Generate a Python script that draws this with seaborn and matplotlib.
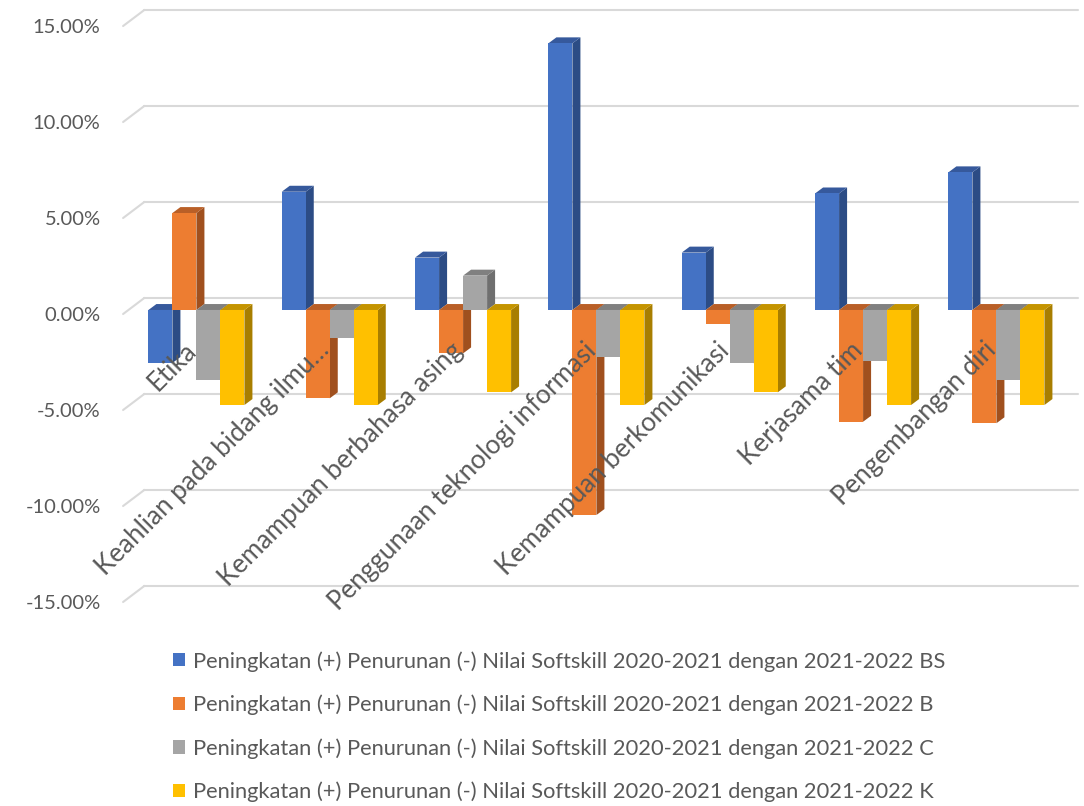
import matplotlib
matplotlib.use("Agg")
import matplotlib.pyplot as plt
import matplotlib.transforms as mtransforms
from matplotlib.patches import Polygon, Patch
from matplotlib.ticker import PercentFormatter
import pandas as pd
import seaborn as sns

categories = [
    "Etika",
    "Keahlian pada bidang ilmu…",
    "Kemampuan berbahasa asing",
    "Penggunaan teknologi informasi",
    "Kemampuan berkomunikasi",
    "Kerjasama tim",
    "Pengembangan diri",
]
series_codes = ["BS", "B", "C", "K"]
series_names = [
    f"Peningkatan (+) Penurunan (-) Nilai Softskill 2020-2021 dengan 2021-2022 {code}"
    for code in series_codes
]
values_bs = [-2.76, 6.16, 2.73, 13.89, 2.99, 6.07, 7.17]
values_b = [5.05, -4.60, -2.26, -10.68, -0.73, -5.82, -5.90]
values_c = [-3.65, -1.44, 1.79, -2.43, -2.78, -2.64, -3.65]
values_k = [-4.95, -4.95, -4.29, -4.95, -4.29, -4.95, -4.95]
y_ticks = [-15, -10, -5, 0, 5, 10, 15]

front_colors = ["#4472C4", "#ED7D31", "#A5A5A5", "#FFC000"]
side_colors = ["#2C4C85", "#A0501E", "#6F6F6F", "#A87E00"]
top_colors = ["#36599C", "#B95F27", "#808080", "#C49400"]
text_color = "#595959"
grid_color = "#D9D9D9"

# 3D look: bar depth and wall offsets, in data units
DEPTH_X, DEPTH_Y = 0.06, 0.31
BACK_X, BACK_Y = 0.11, 0.63
FRONT_X, FRONT_Y = -0.05, -0.21

rows = []
for name, vals in zip(series_names, [values_bs, values_b, values_c, values_k]):
    for cat, v in zip(categories, vals):
        rows.append({"category": cat, "value": v, "series": name})
df = pd.DataFrame(rows)

sns.set_theme(style="white")
plt.rcParams["font.family"] = ["Lato", "DejaVu Sans"]
plt.rcParams["axes.unicode_minus"] = False

fig = plt.figure(figsize=(10.84, 8.06), dpi=100)
ax = fig.add_axes([0.1197, 0.2581, 0.861, 0.7146])

sns.barplot(
    data=df, x="category", y="value", hue="series", order=categories,
    hue_order=series_names, palette=front_colors, saturation=1, width=0.72,
    linewidth=0, errorbar=None, legend=False, ax=ax,
)
ax.set_xlim(-0.5, len(categories) - 0.5)
ax.set_ylim(-15, 15)

# side and top faces of each bar
for s, container in enumerate(ax.containers):
    for bar in container:
        x0 = bar.get_x()
        x1 = x0 + bar.get_width()
        lo = min(bar.get_y(), bar.get_y() + bar.get_height())
        hi = max(bar.get_y(), bar.get_y() + bar.get_height())
        bar.set_zorder(3 + 2 * s + 1)
        side = Polygon(
            [(x1, lo), (x1 + DEPTH_X, lo + DEPTH_Y), (x1 + DEPTH_X, hi + DEPTH_Y), (x1, hi)],
            closed=True, facecolor=side_colors[s], edgecolor="none", zorder=3 + 2 * s,
        )
        top = Polygon(
            [(x0, hi), (x0 + DEPTH_X, hi + DEPTH_Y), (x1 + DEPTH_X, hi + DEPTH_Y), (x1, hi)],
            closed=True, facecolor=top_colors[s], edgecolor="none", zorder=3 + 2 * s,
        )
        ax.add_patch(side)
        ax.add_patch(top)

# back wall gridlines with short floor diagonals on the left
left, right = ax.get_xlim()
for v in y_ticks:
    ax.plot([left + BACK_X, right + BACK_X], [v + BACK_Y, v + BACK_Y],
            color=grid_color, lw=1.5, zorder=0, clip_on=False)
    ax.plot([left + FRONT_X, left + BACK_X], [v + FRONT_Y, v + BACK_Y],
            color=grid_color, lw=1.5, zorder=0, clip_on=False)

for spine in ax.spines.values():
    spine.set_visible(False)
ax.spines["bottom"].set_position(("data", 0))

ax.set_yticks(y_ticks)
ax.yaxis.set_major_formatter(PercentFormatter(xmax=100, decimals=2))
ax.tick_params(axis="y", length=0, pad=21, labelsize=14.5, labelcolor=text_color)
shift_y = mtransforms.ScaledTranslation(0, -4 / 100, fig.dpi_scale_trans)
for lbl in ax.get_yticklabels():
    lbl.set_transform(lbl.get_transform() + shift_y)

ax.set_xticks(range(len(categories)))
ax.set_xticklabels(categories, rotation=45, ha="right", va="top", rotation_mode="anchor")
ax.tick_params(axis="x", length=0, pad=20, labelsize=18.7, labelcolor=text_color)
shift_x = mtransforms.ScaledTranslation(-13 / 100, 0, fig.dpi_scale_trans)
for lbl in ax.get_xticklabels():
    lbl.set_transform(lbl.get_transform() + shift_x)
ax.xaxis.set_zorder(50)
ax.set_xlabel("")
ax.set_ylabel("")

handles = [Patch(facecolor=c, edgecolor="none") for c in front_colors]
fig.legend(
    handles, series_names, loc="upper left", bbox_to_anchor=(173 / 1084, 1 - 651 / 806),
    frameon=False, fontsize=15.75, labelcolor=text_color, labelspacing=1.05,
    handlelength=0.55, handleheight=0.55, handletextpad=0.35, borderpad=0, borderaxespad=0,
)

fig.savefig("out.png", dpi=100)
